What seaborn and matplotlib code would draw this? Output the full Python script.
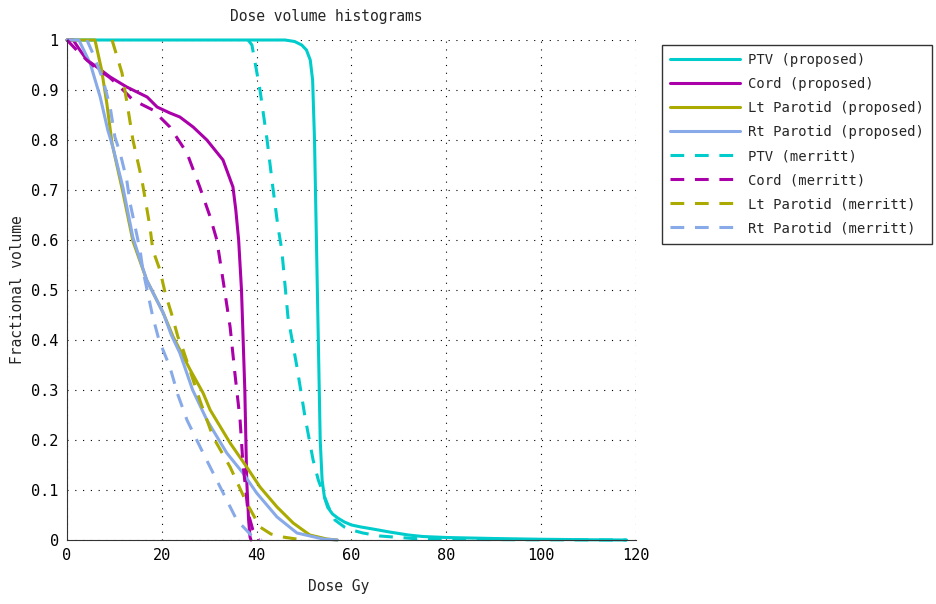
import numpy as np
import pandas as pd
import matplotlib
matplotlib.use("Agg")
import matplotlib.pyplot as plt
from matplotlib.ticker import MultipleLocator, FuncFormatter
import seaborn as sns

# ---------------- data ----------------
ptv_prop_dose = [0, 46, 48, 49.5, 50.5, 51.3, 51.8, 52.2, 52.6, 53.0, 53.4, 53.8, 54.3, 55, 56, 57.1,
                 58.5, 60, 62, 64.5, 68, 72, 75, 80, 90, 100, 110, 118]
ptv_prop_vol = [1, 1, 0.997, 0.99, 0.98, 0.96, 0.92, 0.8, 0.6, 0.4, 0.2, 0.12, 0.085, 0.065, 0.052, 0.044,
                0.036, 0.03, 0.026, 0.022, 0.016, 0.01, 0.007, 0.005, 0.003, 0.0015, 0.0005, 0]

cord_prop_dose = [0, 1.3, 2.7, 4.2, 6.3, 9.1, 12.6, 16.9, 19, 21.7, 23.8, 26.6, 29.5, 32.9, 35, 35.6,
                  36.2, 36.8, 37.1, 37.5, 37.9, 38.3, 38.6, 38.8]
cord_prop_vol = [1, 1, 0.98, 0.96, 0.946, 0.926, 0.906, 0.886, 0.866, 0.854, 0.846, 0.826, 0.8, 0.76,
                 0.706, 0.66, 0.6, 0.5, 0.414, 0.3, 0.12, 0.04, 0.006, 0]

lt_prop_dose = [0, 5.9, 7.3, 8.4, 9.5, 11.8, 13.9, 16.8, 20.3, 22.4, 26, 28.7, 30.2, 34.4, 37.9,
                40.7, 44.3, 47.7, 51.2, 54.8, 57]
lt_prop_vol = [1, 1, 0.94, 0.873, 0.793, 0.695, 0.598, 0.52, 0.454, 0.406, 0.34, 0.294, 0.26, 0.194, 0.146,
               0.106, 0.066, 0.034, 0.01, 0.002, 0]

rt_prop_dose = [0, 2.5, 4.9, 7, 8.6, 9.7, 11.8, 13.9, 16.8, 20.3, 22, 23.8, 26.5, 29.5, 33.7,
                37.1, 40, 44.3, 48.5, 54, 57]
rt_prop_vol = [1, 1, 0.953, 0.886, 0.82, 0.785, 0.705, 0.605, 0.52, 0.454, 0.41, 0.374, 0.3, 0.24, 0.174,
               0.134, 0.094, 0.046, 0.014, 0.002, 0]

ptv_mer_dose = [38.2, 39, 40.7, 42.2, 43.4, 44.5, 45.3, 46.6, 48.5, 50.2, 51.9, 53, 54, 55.2, 56.5,
                58.5, 60, 62.4, 66, 73, 80, 90, 100, 110, 118]
ptv_mer_vol = [1, 0.99, 0.9, 0.8, 0.706, 0.626, 0.58, 0.446, 0.346, 0.246, 0.16, 0.12, 0.094, 0.065, 0.04,
               0.026, 0.02, 0.014, 0.008, 0.003, 0.0015, 0.0008, 0.0004, 0.0002, 0]

cord_mer_dose = [0, 3, 6, 9, 11.2, 13.9, 18.1, 21.7, 25.3, 28, 30.2, 31.6, 33, 34.4, 35.4, 36.5,
                 37.1, 38.2, 39.2, 40, 40.5]
cord_mer_vol = [1, 0.97, 0.945, 0.925, 0.906, 0.88, 0.86, 0.826, 0.774, 0.706, 0.646, 0.6, 0.514, 0.426,
                0.334, 0.24, 0.154, 0.054, 0.02, 0.006, 0]

lt_mer_dose = [9.5, 11.6, 12.9, 13.9, 15.8, 17.5, 18.1, 19.6, 20.7, 22, 23.4, 24.5, 26.6, 28, 30.8,
               34.4, 37.9, 40.7, 43, 45.5, 49.8]
lt_mer_vol = [1, 0.934, 0.86, 0.8, 0.72, 0.626, 0.58, 0.54, 0.494, 0.454, 0.406, 0.38, 0.32, 0.28, 0.206,
              0.146, 0.074, 0.026, 0.012, 0.006, 0]

rt_mer_dose = [4.2, 5.6, 7.6, 9.1, 10.1, 11.2, 12.6, 13.3, 15.4, 16, 18.1, 19.4, 21.7, 23.4, 25.3,
               28.7, 32.3, 35.8, 39.2, 41]
rt_mer_vol = [1, 0.97, 0.92, 0.866, 0.806, 0.774, 0.72, 0.674, 0.58, 0.54, 0.446, 0.4, 0.346, 0.29, 0.24,
              0.174, 0.106, 0.04, 0.006, 0]

series_labels = ["PTV (proposed)", "Cord (proposed)", "Lt Parotid (proposed)", "Rt Parotid (proposed)",
                 "PTV (merritt)", "Cord (merritt)", "Lt Parotid (merritt)", "Rt Parotid (merritt)"]
series_data = [(ptv_prop_dose, ptv_prop_vol), (cord_prop_dose, cord_prop_vol),
               (lt_prop_dose, lt_prop_vol), (rt_prop_dose, rt_prop_vol),
               (ptv_mer_dose, ptv_mer_vol), (cord_mer_dose, cord_mer_vol),
               (lt_mer_dose, lt_mer_vol), (rt_mer_dose, rt_mer_vol)]

colors = ["#00cccc", "#aa00aa", "#aaaa00", "#88aae8"] * 2
dashed = [False] * 4 + [True] * 4

# ---------------- plotting ----------------
sns.set_style("white")
plt.rcParams['font.family'] = ['DejaVu Sans Mono', 'DejaVu Sans']
plt.rcParams['font.size'] = 10

fig = plt.figure(figsize=(9.36, 6.04), dpi=100)
ax = fig.add_axes([67 / 936, 64 / 604, (636 - 67) / 936, 500 / 604])

for (d, v), lab, c, ds in zip(series_data, series_labels, colors, dashed):
    df = pd.DataFrame({"dose": d, "vol": v})
    sns.lineplot(data=df, x="dose", y="vol", ax=ax, color=c, label=lab,
                 sort=False, estimator=None, linewidth=2.2)
    ax.lines[-1].set_clip_on(False)
    if ds:
        ax.lines[-1].set_dashes((4.5, 3.5))

ax.set_xlim(0, 120)
ax.set_ylim(0, 1)
ax.xaxis.set_major_locator(MultipleLocator(20))
ax.yaxis.set_major_locator(MultipleLocator(0.1))
ax.xaxis.set_minor_locator(MultipleLocator(2))
ax.yaxis.set_minor_locator(MultipleLocator(0.02))
ax.yaxis.set_major_formatter(FuncFormatter(lambda v, p: f"{v:g}"))
ax.tick_params(which="major", direction="in", length=5, width=0.8, colors="#333333",
               labelcolor="black", labelsize=11, pad=6)
ax.tick_params(which="minor", direction="in", length=2.5, width=0.6, colors="#333333")
ax.grid(True, which="major", color="black", linestyle=(0, (1, 6)), linewidth=0.8)
for s in ["top", "right"]:
    ax.spines[s].set_visible(False)
for s in ["left", "bottom"]:
    ax.spines[s].set_color("#333333")
    ax.spines[s].set_linewidth(0.8)

ax.set_xlabel("")
ax.set_ylabel("")
fig.text(339 / 936, 1 - 586 / 604, "Dose Gy", ha="center", va="center", fontsize=10.5)
fig.text(18 / 936, 1 - 290 / 604, "Fractional volume", ha="center", va="center",
         rotation=90, fontsize=10.5)
fig.text(326 / 936, 1 - 17 / 604, "Dose volume histograms", ha="center", va="center", fontsize=10.5)

handles, labels = ax.get_legend_handles_labels()
ax.get_legend().remove()
leg = fig.legend(handles, labels, loc="upper left", bbox_to_anchor=(655 / 936, 1 - 38 / 604),
                 frameon=True, fancybox=False, edgecolor="black", fontsize=10,
                 handlelength=5.0, handletextpad=0.6, labelspacing=0.72, borderpad=0.6)
leg.get_frame().set_linewidth(1.0)

fig.savefig("out.png", dpi=100)
